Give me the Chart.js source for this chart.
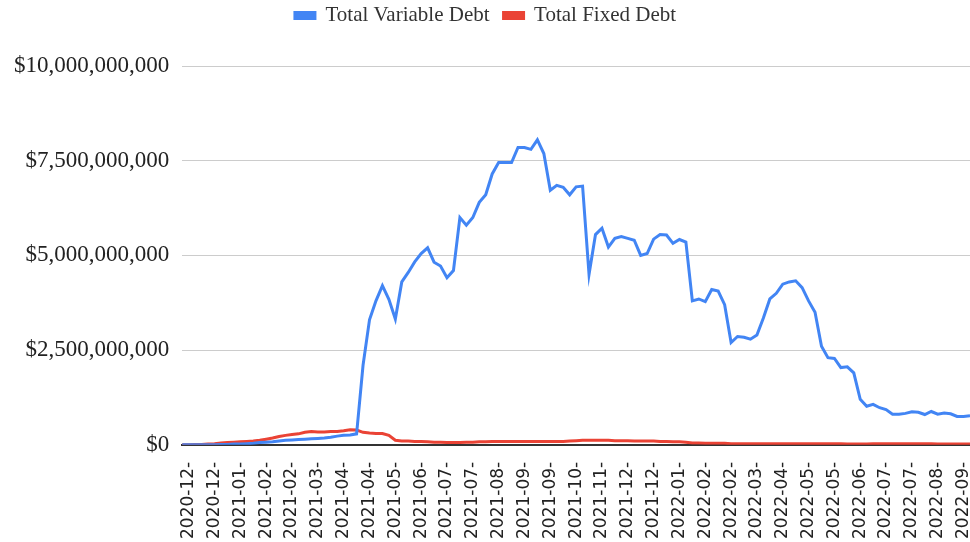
<!DOCTYPE html>
<html>
<head>
<meta charset="utf-8">
<script src="https://cdn.jsdelivr.net/npm/chart.js@4"></script>
<style>
  html, body { margin: 0; padding: 0; background: #fff; overflow: hidden; }
  #wrap { width: 970px; height: 556px; }
</style>
</head>
<body>
<div id="wrap"><canvas id="grafico_divida"></canvas></div>
<script>
// Rótulos do eixo x como aparecem no gráfico (um a cada 4 pontos)
const datasTicks = [
    '2020-12-', '2020-12-', '2021-01-', '2021-02-', '2021-02-', '2021-03-',
    '2021-04-', '2021-04-', '2021-05-', '2021-06-', '2021-07-', '2021-07-',
    '2021-08-', '2021-09-', '2021-09-', '2021-10-', '2021-11-', '2021-12-',
    '2021-12-', '2022-01-', '2022-02-', '2022-02-', '2022-03-', '2022-04-',
    '2022-05-', '2022-05-', '2022-06-', '2022-07-', '2022-07-', '2022-08-',
    '2022-09-'
];
const passoTicks = 4;   // pontos entre rótulos
const inicioTicks = 1;  // índice do primeiro rótulo

// Valores em bilhões de dólares
const dividaVariavel = [
    0, 0, 0, 0, 0, 0, 0.01, 0.01, 0.02, 0.02,
    0.03, 0.04, 0.06, 0.07, 0.08, 0.10, 0.12, 0.13, 0.14, 0.15,
    0.16, 0.17, 0.18, 0.20, 0.23, 0.25, 0.26, 0.29, 2.10, 3.30,
    3.80, 4.20, 3.84, 3.32, 4.30, 4.55, 4.83, 5.05, 5.20, 4.82,
    4.72, 4.41, 4.60, 6.00, 5.80, 6.00, 6.40, 6.60, 7.15, 7.45,
    7.45, 7.45, 7.85, 7.85, 7.80, 8.05, 7.69, 6.72, 6.85, 6.80,
    6.60, 6.81, 6.83, 4.50, 5.55, 5.72, 5.22, 5.45, 5.50, 5.45,
    5.40, 5.00, 5.05, 5.43, 5.55, 5.54, 5.32, 5.42, 5.35, 3.80,
    3.85, 3.78, 4.10, 4.06, 3.70, 2.70, 2.86, 2.84, 2.79, 2.90,
    3.35, 3.85, 4.00, 4.24, 4.30, 4.33, 4.15, 3.80, 3.50, 2.60,
    2.30, 2.28, 2.04, 2.06, 1.90, 1.20, 1.02, 1.07, 0.98, 0.93,
    0.81, 0.81, 0.83, 0.87, 0.86, 0.80, 0.88, 0.81, 0.84, 0.82,
    0.75, 0.75, 0.77
];
const dividaFixa = [
    0, 0, 0.01, 0.01, 0.02, 0.03, 0.05, 0.06, 0.07, 0.08,
    0.09, 0.10, 0.12, 0.15, 0.18, 0.22, 0.25, 0.27, 0.29, 0.33,
    0.35, 0.34, 0.34, 0.35, 0.35, 0.37, 0.40, 0.39, 0.33, 0.31,
    0.30, 0.30, 0.25, 0.12, 0.10, 0.10, 0.09, 0.09, 0.08, 0.07,
    0.07, 0.06, 0.06, 0.06, 0.07, 0.07, 0.08, 0.08, 0.09, 0.09,
    0.09, 0.09, 0.09, 0.09, 0.09, 0.09, 0.09, 0.09, 0.09, 0.09,
    0.10, 0.11, 0.12, 0.12, 0.12, 0.12, 0.12, 0.11, 0.11, 0.11,
    0.10, 0.10, 0.10, 0.10, 0.09, 0.09, 0.08, 0.08, 0.07, 0.05,
    0.05, 0.04, 0.04, 0.04, 0.04, 0.03, 0.03, 0.03, 0.03, 0.03,
    0.03, 0.03, 0.03, 0.03, 0.03, 0.03, 0.03, 0.03, 0.03, 0.03,
    0.03, 0.03, 0.03, 0.02, 0.02, 0.02, 0.02, 0.03, 0.03, 0.03,
    0.03, 0.03, 0.03, 0.03, 0.03, 0.03, 0.03, 0.02, 0.02, 0.02,
    0.02, 0.02, 0.02
];

const BILHAO = 1e9;

// Rótulos de categoria: só os pontos marcados recebem a data
const rotulos = dividaVariavel.map((_, i) => {
    const k = i - inicioTicks;
    return (k >= 0 && k % passoTicks === 0 && datasTicks[k / passoTicks]) ? datasTicks[k / passoTicks] : '';
});

// Espaço extra abaixo da legenda
const espacoLegenda = {
    id: 'espacoLegenda',
    beforeInit(chart) {
        const fitOriginal = chart.legend.fit;
        chart.legend.fit = function () {
            fitOriginal.bind(chart.legend)();
            this.height += 30;
        };
    }
};

function criarGraficoDivida() {
    const ctx = document.getElementById('grafico_divida').getContext('2d');

    new Chart(ctx, {
        type: 'line',
        data: {
            labels: rotulos,
            datasets: [{
                label: 'Total Variable Debt',
                data: dividaVariavel.map(v => v * BILHAO),
                borderColor: '#4285f4',
                backgroundColor: '#4285f4',
                borderWidth: 3,
                pointRadius: 0,
                tension: 0
            }, {
                label: 'Total Fixed Debt',
                data: dividaFixa.map(v => v * BILHAO),
                borderColor: '#ea4335',
                backgroundColor: '#ea4335',
                borderWidth: 3,
                pointRadius: 0,
                tension: 0
            }]
        },
        options: {
            responsive: true,
            maintainAspectRatio: false,
            animation: false,
            layout: { padding: { left: 1, right: 0, top: -9, bottom: 0 } },
            plugins: {
                legend: {
                    display: true,
                    position: 'top',
                    labels: {
                        boxWidth: 20,
                        boxHeight: 6,
                        padding: 14,
                        color: '#333',
                        font: { family: '"Liberation Serif", serif', size: 21 }
                    }
                },
                tooltip: { enabled: false }
            },
            scales: {
                y: {
                    min: 0,
                    max: 10 * BILHAO,
                    ticks: {
                        stepSize: 2.5 * BILHAO,
                        padding: 13,
                        color: '#222',
                        font: { family: '"Liberation Serif", serif', size: 23 },
                        callback: v => '$' + Number(v).toLocaleString('en-US')
                    },
                    grid: { color: '#cccccc', lineWidth: 1, drawTicks: false },
                    border: { display: false }
                },
                x: {
                    afterFit: (escala) => {
                        escala.paddingLeft = 0;
                        escala.paddingRight = 0;
                    },
                    ticks: {
                        autoSkip: false,
                        minRotation: 90,
                        maxRotation: 90,
                        padding: 17,
                        color: '#222',
                        font: { family: '"DejaVu Sans", sans-serif', size: 17 }
                    },
                    grid: { display: false, drawTicks: false },
                    border: { display: true, color: '#333', width: 2 }
                }
            }
        },
        plugins: [espacoLegenda]
    });
}

criarGraficoDivida();
</script>
</body>
</html>
